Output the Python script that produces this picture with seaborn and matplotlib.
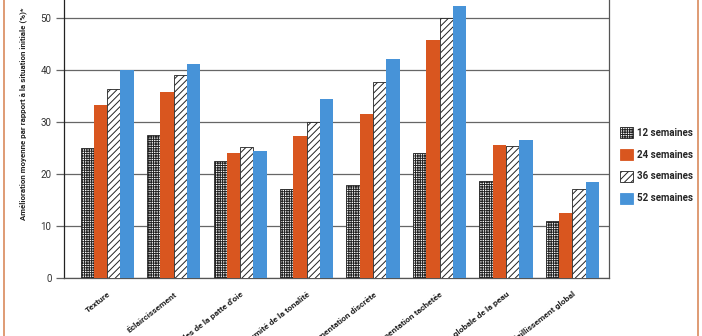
import matplotlib
matplotlib.use("Agg")
import matplotlib.pyplot as plt
import seaborn as sns
import pandas as pd
from matplotlib.patches import Patch
from matplotlib.lines import Line2D

categories = ["Texture", "Éclaircissement", "Rides de la patte d'oie",
              "Uniformité de la tonalité", "Hyperpigmentation discrète",
              "Hyperpigmentation tachetée", "Apparence globale de la peau",
              "Photovieillissement global"]
series = ["12 semaines", "24 semaines", "36 semaines", "52 semaines"]
v12 = [25.0, 27.5, 22.5, 17.1, 17.9, 24.0, 18.7, 11.0]
v24 = [33.3, 35.8, 24.0, 27.3, 31.5, 45.8, 25.6, 12.5]
v36 = [36.3, 39.0, 25.2, 30.0, 37.7, 50.0, 25.4, 17.1]
v52 = [40.0, 41.2, 24.4, 34.4, 42.1, 52.3, 26.5, 18.5]
yticks = [0, 10, 20, 30, 40, 50]
ylabel = "Amélioration moyenne par rapport à la situation initiale (%)*"

rows = []
for s, vals in zip(series, [v12, v24, v36, v52]):
    for c, v in zip(categories, vals):
        rows.append({"cat": c, "serie": s, "val": v})
df = pd.DataFrame(rows)

sns.set_style("white")
plt.rcParams["font.family"] = ["Roboto", "DejaVu Sans"]
plt.rcParams["hatch.linewidth"] = 0.7

orange = "#D9561F"
blue = "#4793D8"
fills = ["white", orange, "white", blue]
hatches = ["+++++++", None, "/////", None]
edges = ["#222222", orange, "#222222", blue]

fig = plt.figure(figsize=(7.02, 3.36), dpi=100)
ax = fig.add_axes([64/702, 58/336, 545/702, 312/336])

sns.barplot(data=df, x="cat", y="val", hue="serie", ax=ax, width=0.8,
            palette=[orange]*4, legend=False, saturation=1)

for i, cont in enumerate(ax.containers):
    for p in cont.patches:
        p.set_facecolor(fills[i])
        p.set_edgecolor(edges[i])
        p.set_linewidth(0.6 if hatches[i] else 0)
        if hatches[i]:
            p.set_hatch(hatches[i])
        p.set_zorder(3)

ax.set_ylim(0, 60)
ax.set_xlim(-0.65, 7.55)
ax.set_yticks(yticks)
ax.set_yticklabels([str(t) for t in yticks], fontsize=7, color="#333333")
ax.yaxis.grid(True, color="#666666", linewidth=0.9, zorder=0)
ax.set_axisbelow(True)
ax.tick_params(axis="y", length=6, width=0.9, color="#666666", pad=3, left=True)
ax.tick_params(axis="x", length=0, pad=9)
ax.set_xticks(range(len(categories)))
ax.set_xticklabels(categories, rotation=38, ha="right", rotation_mode="anchor",
                   fontsize=6.1, fontweight="bold", color="#222222")
ax.set_xlabel("")
ax.set_ylabel(ylabel, fontsize=5.7, fontweight="bold", color="#222222")
ax.yaxis.set_label_coords(-0.068, 0.526)
for side in ["left", "right", "bottom", "top"]:
    ax.spines[side].set_visible(True)
    ax.spines[side].set_color("#555555")
    ax.spines[side].set_linewidth(0.9)
ax.spines["left"].set_color("#222222")

handles = [Patch(facecolor=fills[i], edgecolor=edges[i] if hatches[i] else fills[i],
                 hatch=hatches[i], linewidth=0.6) for i in range(4)]
leg = fig.legend(handles, series, loc="upper left", bbox_to_anchor=(611/702, 1 - 118/336),
                 frameon=False, handlelength=1.4, handleheight=1.4,
                 labelspacing=1.1, handletextpad=0.4, prop={"weight": "bold", "size": 7})

for xpx in [3.5, 697.5]:
    fig.add_artist(Line2D([xpx/702, xpx/702], [0, 1], color="#D98A5C", linewidth=1.2,
                          transform=fig.transFigure))

fig.savefig("out.png", dpi=100)
